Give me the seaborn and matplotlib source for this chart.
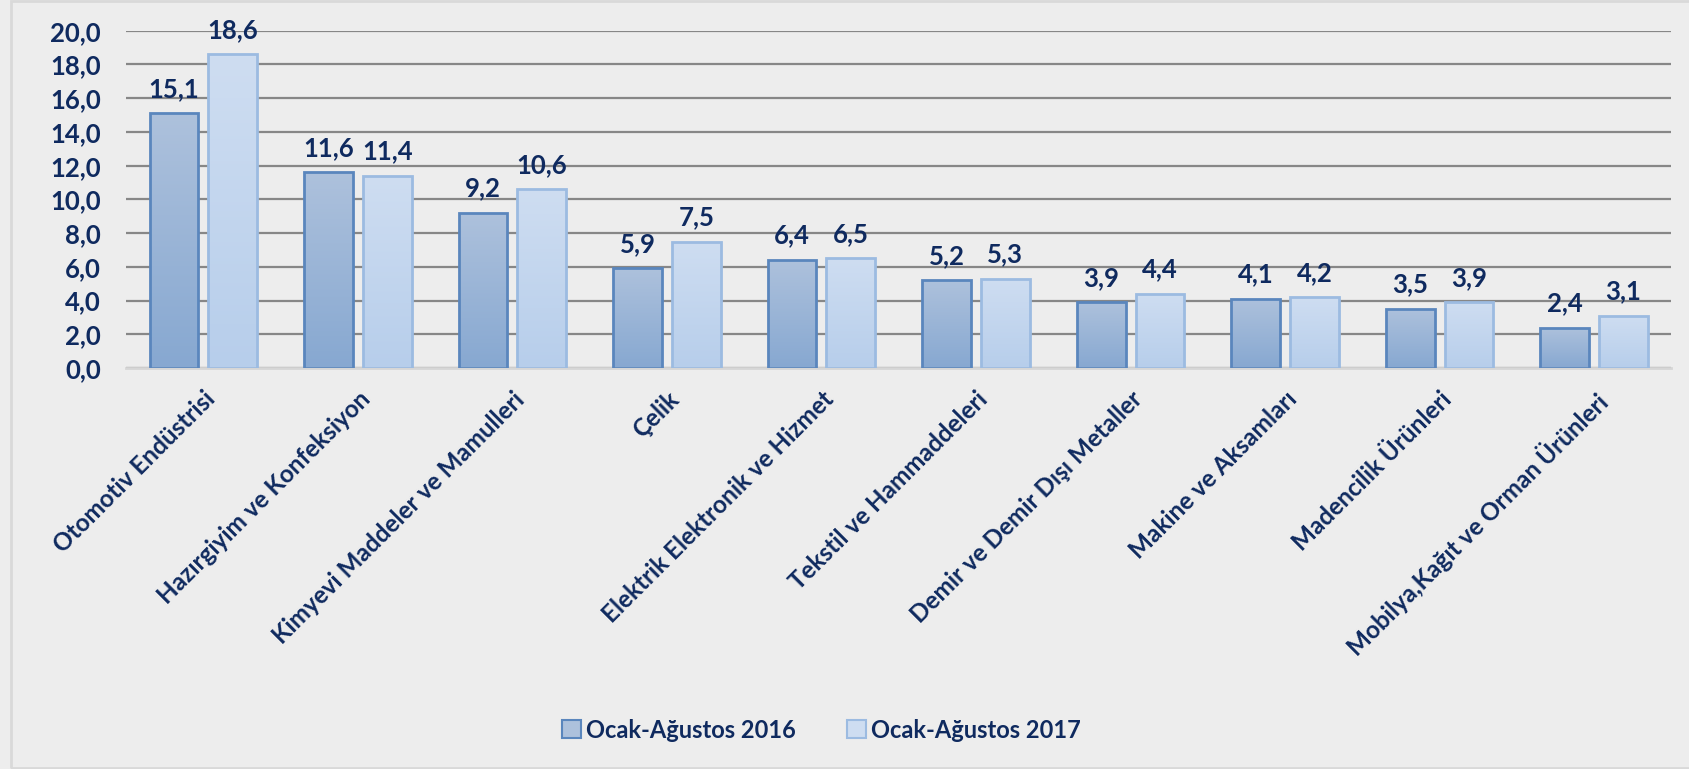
import matplotlib.pyplot as plt
import matplotlib.patches as mpatches
import numpy as np
import pandas as pd
import seaborn as sns

# Data (share, %)
categories = [
    'Otomotiv Endüstrisi', 'Hazırgiyim ve Konfeksiyon', 'Kimyevi Maddeler ve Mamulleri',
    'Çelik', 'Elektrik Elektronik ve Hizmet', 'Tekstil ve Hammaddeleri',
    'Demir ve Demir Dışı Metaller', 'Makine ve Aksamları', 'Madencilik Ürünleri',
    'Mobilya,Kağıt ve Orman Ürünleri',
]
series_names = ['Ocak-Ağustos 2016', 'Ocak-Ağustos 2017']
values_2016 = [15.1, 11.6, 9.2, 5.9, 6.4, 5.2, 3.9, 4.1, 3.5, 2.4]
values_2017 = [18.6, 11.4, 10.6, 7.5, 6.5, 5.3, 4.4, 4.2, 3.9, 3.1]
yticks = [0, 2, 4, 6, 8, 10, 12, 14, 16, 18, 20]

df = pd.DataFrame({
    'kategori': categories * 2,
    'donem': [series_names[0]] * len(categories) + [series_names[1]] * len(categories),
    'deger': values_2016 + values_2017,
})

BG = '#EDEDED'
TXT = '#0F2A5F'
top_cols = ['#ADC1DC', '#CEDDF1']
bot_cols = ['#87A8D1', '#B7CEEB']
edge_cols = ['#5A86BD', '#9CBBE1']

sns.set_style('white')
plt.rcParams['font.family'] = ['Lato', 'DejaVu Sans']
plt.rcParams['font.weight'] = 'bold'

fig = plt.figure(figsize=(16.9, 7.69), dpi=100, facecolor=BG)
ax = fig.add_axes([0.0746, 0.5215, 0.9144, 0.4385])
ax.set_facecolor(BG)

sns.barplot(data=df, x='kategori', y='deger', hue='donem', hue_order=series_names,
            palette=top_cols, width=0.76, gap=0.17, ax=ax, legend=False,
            linewidth=2)

# gradient fill + edge colours per series
for i, cont in enumerate(ax.containers):
    cmap = plt.matplotlib.colors.LinearSegmentedColormap.from_list('g', [bot_cols[i], top_cols[i]])
    grad = np.linspace(0, 1, 100).reshape(-1, 1)
    for p in cont.patches:
        p.set_edgecolor(edge_cols[i])
        p.set_zorder(3)
        x0, y0 = p.get_x(), p.get_y()
        w, h = p.get_width(), p.get_height()
        im = ax.imshow(grad, cmap=cmap, extent=[x0, x0 + w, y0, y0 + h], origin='lower',
                       aspect='auto', zorder=2.5)
        im.set_clip_path(p)
        p.set_facecolor('none')
    ax.bar_label(cont, labels=[f'{v:.1f}'.replace('.', ',') for v in cont.datavalues],
                 padding=9, fontsize=18.5, fontweight='bold', color=TXT)

ax.set_xlim(-0.5, len(categories) - 0.5)
ax.set_ylim(0, 20)
ax.set_yticks(yticks)
ax.set_yticklabels([f'{t:.1f}'.replace('.', ',') for t in yticks])
ax.yaxis.grid(True, color='#878787', linewidth=1.6, zorder=0)
ax.set_axisbelow(True)
for s in ['top', 'right', 'left']:
    ax.spines[s].set_visible(False)
ax.spines['bottom'].set_color('#D6D6D6')
ax.spines['bottom'].set_linewidth(2)
ax.tick_params(axis='y', length=0, pad=18, labelsize=18.5, labelcolor=TXT)
ax.tick_params(axis='x', length=0, pad=14, labelsize=17.5, labelcolor=TXT)
plt.setp(ax.get_xticklabels(), rotation=45, ha='right', rotation_mode='anchor', fontweight='bold')
plt.setp(ax.get_yticklabels(), fontweight='bold')
ax.set_xlabel('')
ax.set_ylabel('')

# legend
handles = [mpatches.Patch(facecolor=top_cols[i], edgecolor=edge_cols[i], linewidth=1.5,
                          label=series_names[i]) for i in range(2)]
fig.legend(handles=handles, loc='center', bbox_to_anchor=(0.486, 1 - 730 / 769), ncol=2,
           frameon=False, labelcolor=TXT, handlelength=0.8, handleheight=0.8,
           handletextpad=0.2, columnspacing=2.2, prop={'weight': 'bold', 'size': 17})

# chart area border
fig.patches.append(mpatches.Rectangle((11 / 1690, 1 / 769), 1.0, 1 - 2 / 769,
                                      transform=fig.transFigure, fill=False,
                                      edgecolor='#D9D9D9', linewidth=2))

fig.savefig('out.png', dpi=100, facecolor=BG)
